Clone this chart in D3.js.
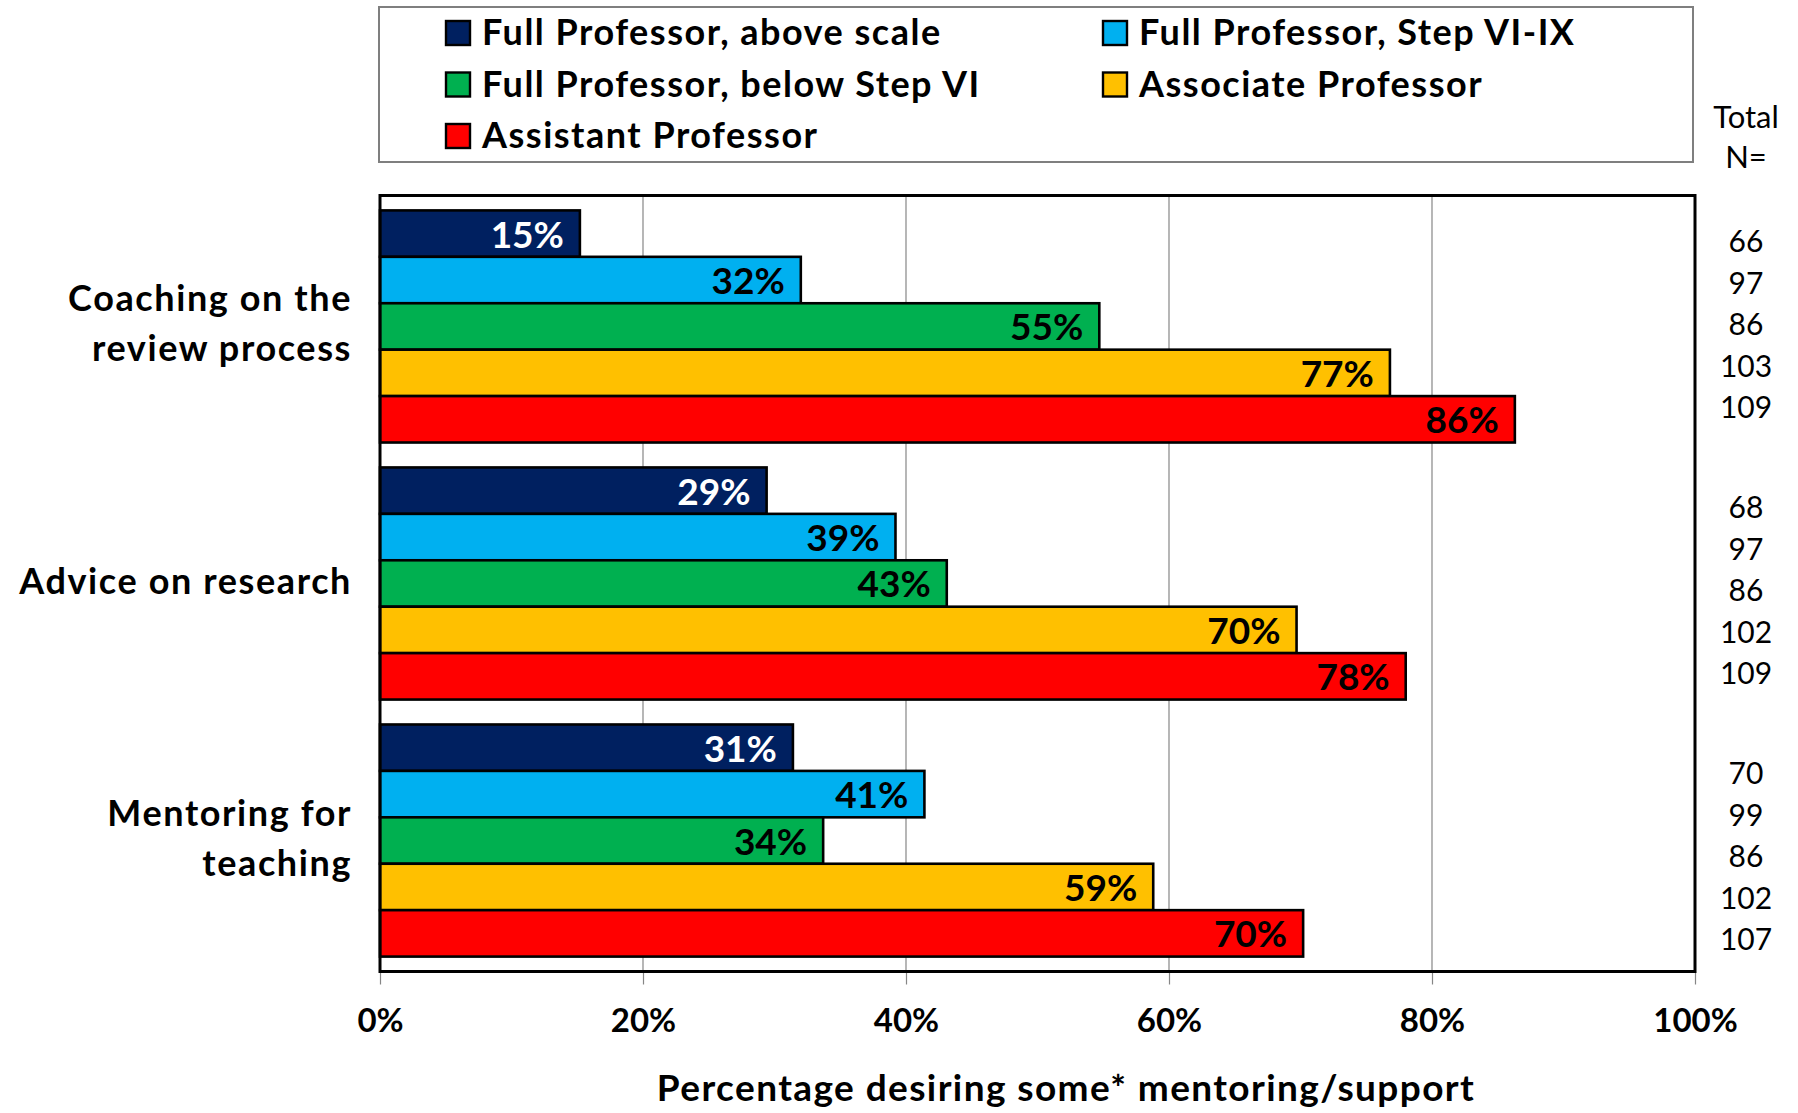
<!DOCTYPE html>
<html>
<head>
<meta charset="utf-8">
<script src="https://cdn.jsdelivr.net/npm/d3@7"></script>
<style>
  html, body { margin: 0; padding: 0; background: #fff; }
  svg { display: block; }
  text { font-family: Lato, "Open Sans", sans-serif; }
</style>
</head>
<body>
<div id="chart"></div>
<script>
// données
const categories = ["Coaching on the review process", "Advice on research", "Mentoring for teaching"];
const categoryLines = [["Coaching on the", "review process"], ["Advice on research"], ["Mentoring for", "teaching"]];
const series = ["Full Professor, above scale", "Full Professor, Step VI-IX", "Full Professor, below Step VI", "Associate Professor", "Assistant Professor"];
const colors = ["#002060", "#00B0F0", "#00B050", "#FFC000", "#FF0000"];
const labelColors = ["#fff", "#000", "#000", "#000", "#000"];
// pourcentages par catégorie, dans l'ordre des séries
const coachingValues = [15.2, 32.0, 54.7, 76.8, 86.3];
const researchValues = [29.4, 39.2, 43.1, 69.7, 78.0];
const teachingValues = [31.4, 41.4, 33.7, 58.8, 70.2];
// effectifs (Total N=)
const coachingN = [66, 97, 86, 103, 109];
const researchN = [68, 97, 86, 102, 109];
const teachingN = [70, 99, 86, 102, 107];
const xTicks = [0, 20, 40, 60, 80, 100];
const xTitle = "Percentage desiring some* mentoring/support";

const values = [coachingValues, researchValues, teachingValues];
const counts = [coachingN, researchN, teachingN];

const W = 1798, H = 1113;
const plot = { left: 380, right: 1695, top: 195.5, bottom: 971.5 };

const svg = d3.select("#chart").append("svg")
  .attr("width", W)
  .attr("height", H);

const x = d3.scaleLinear().domain([0, 100]).range([plot.left, plot.right]);

const y = d3.scaleBand()
  .domain(categories)
  .range([plot.top, plot.bottom])
  .paddingInner(0.097)
  .paddingOuter(0.058);

const ySub = d3.scaleBand()
  .domain(series)
  .range([0, y.bandwidth()]);

// grille verticale
svg.append("g")
  .selectAll("line")
  .data(xTicks.slice(1, -1))
  .enter().append("line")
  .attr("x1", d => x(d)).attr("x2", d => x(d))
  .attr("y1", plot.top).attr("y2", plot.bottom)
  .attr("stroke", "#868686")
  .attr("stroke-width", 1.2);

// axe du bas
const axis = svg.append("g")
  .attr("transform", `translate(0, ${plot.bottom})`)
  .call(d3.axisBottom(x).tickValues(xTicks).tickFormat(d => d + "%").tickSize(13).tickSizeOuter(0));
axis.select(".domain").remove();
axis.selectAll(".tick line").attr("stroke", "#868686").attr("stroke-width", 1.2);
axis.selectAll(".tick text")
  .attr("y", 60)
  .attr("dy", 0)
  .attr("fill", "#000")
  .style("font-family", "Lato")
  .style("font-size", "33px")
  .style("font-weight", "bold");

// barres
const groups = svg.append("g")
  .selectAll("g")
  .data(categories)
  .enter().append("g")
  .attr("transform", d => `translate(0, ${y(d)})`);

groups.selectAll("rect")
  .data((d, i) => values[i].map((v, j) => ({ v, j })))
  .enter().append("rect")
  .attr("x", x(0))
  .attr("y", d => ySub(series[d.j]))
  .attr("width", d => x(d.v) - x(0))
  .attr("height", ySub.bandwidth())
  .attr("fill", d => colors[d.j])
  .attr("stroke", "#000")
  .attr("stroke-width", 2.6);

groups.selectAll(".val")
  .data((d, i) => values[i].map((v, j) => ({ v, j })))
  .enter().append("text")
  .attr("class", "val")
  .attr("x", d => x(d.v) - 16)
  .attr("y", d => ySub(series[d.j]) + ySub.bandwidth() / 2 + 14)
  .attr("text-anchor", "end")
  .attr("fill", d => labelColors[d.j])
  .style("font-size", "37px")
  .style("font-weight", "bold")
  .text(d => Math.round(d.v) + "%");

// cadre de la zone de tracé
svg.append("rect")
  .attr("x", plot.left).attr("y", plot.top)
  .attr("width", plot.right - plot.left)
  .attr("height", plot.bottom - plot.top)
  .attr("fill", "none")
  .attr("stroke", "#000")
  .attr("stroke-width", 3);

// libellés des catégories
svg.append("g")
  .selectAll("text")
  .data(categories)
  .enter().append("text")
  .attr("text-anchor", "end")
  .style("font-size", "36px")
  .style("font-weight", "bold")
  .style("letter-spacing", "1.6px")
  .each(function (d, i) {
    const lines = categoryLines[i];
    const mid = y(d) + y.bandwidth() / 2 + 10;
    const t = d3.select(this);
    lines.forEach((line, k) => {
      t.append("tspan")
        .attr("x", 352)
        .attr("y", mid + (k - (lines.length - 1) / 2) * 50)
        .text(line);
    });
  });

// colonne Total N=
svg.append("text")
  .attr("x", 1746).attr("y", 128)
  .attr("text-anchor", "middle")
  .style("font-size", "31px")
  .text("Total");
svg.append("text")
  .attr("x", 1746).attr("y", 168)
  .attr("text-anchor", "middle")
  .style("font-size", "31px")
  .text("N=");

const nGroup = d3.scaleLinear().domain([0, categories.length - 1]).range([335, 867]);
svg.append("g")
  .selectAll("g")
  .data(categories)
  .enter().append("g")
  .each(function (d, i) {
    d3.select(this).selectAll("text")
      .data(counts[i])
      .enter().append("text")
      .attr("x", 1746)
      .attr("y", (n, k) => nGroup(i) + (k - 2) * 41.5)
      .attr("text-anchor", "middle")
      .style("font-size", "30px")
      .text(n => n);
  });

// titre de l'axe
svg.append("text")
  .attr("x", 1066).attr("y", 1101)
  .attr("text-anchor", "middle")
  .style("font-size", "37px")
  .style("font-weight", "bold")
  .style("letter-spacing", "1.4px")
  .text(xTitle);

// légende
const legend = svg.append("g");
legend.append("rect")
  .attr("x", 379).attr("y", 7)
  .attr("width", 1314).attr("height", 155)
  .attr("fill", "#fff")
  .attr("stroke", "#7f7f7f")
  .attr("stroke-width", 2);

const legendCols = [446, 1103];
const legendRow = d3.scaleLinear().domain([0, 2]).range([21, 124]);
const items = legend.selectAll("g.item")
  .data(series)
  .enter().append("g")
  .attr("class", "item")
  .attr("transform", (d, i) => `translate(${legendCols[i % 2]}, ${legendRow(Math.floor(i / 2))})`);
items.append("rect")
  .attr("width", 24).attr("height", 24)
  .attr("fill", (d, i) => colors[i])
  .attr("stroke", "#000")
  .attr("stroke-width", 2.4);
items.append("text")
  .attr("x", 36).attr("y", 24)
  .style("font-size", "36px")
  .style("font-weight", "bold")
  .style("letter-spacing", "1.5px")
  .text(d => d);
</script>
</body>
</html>
